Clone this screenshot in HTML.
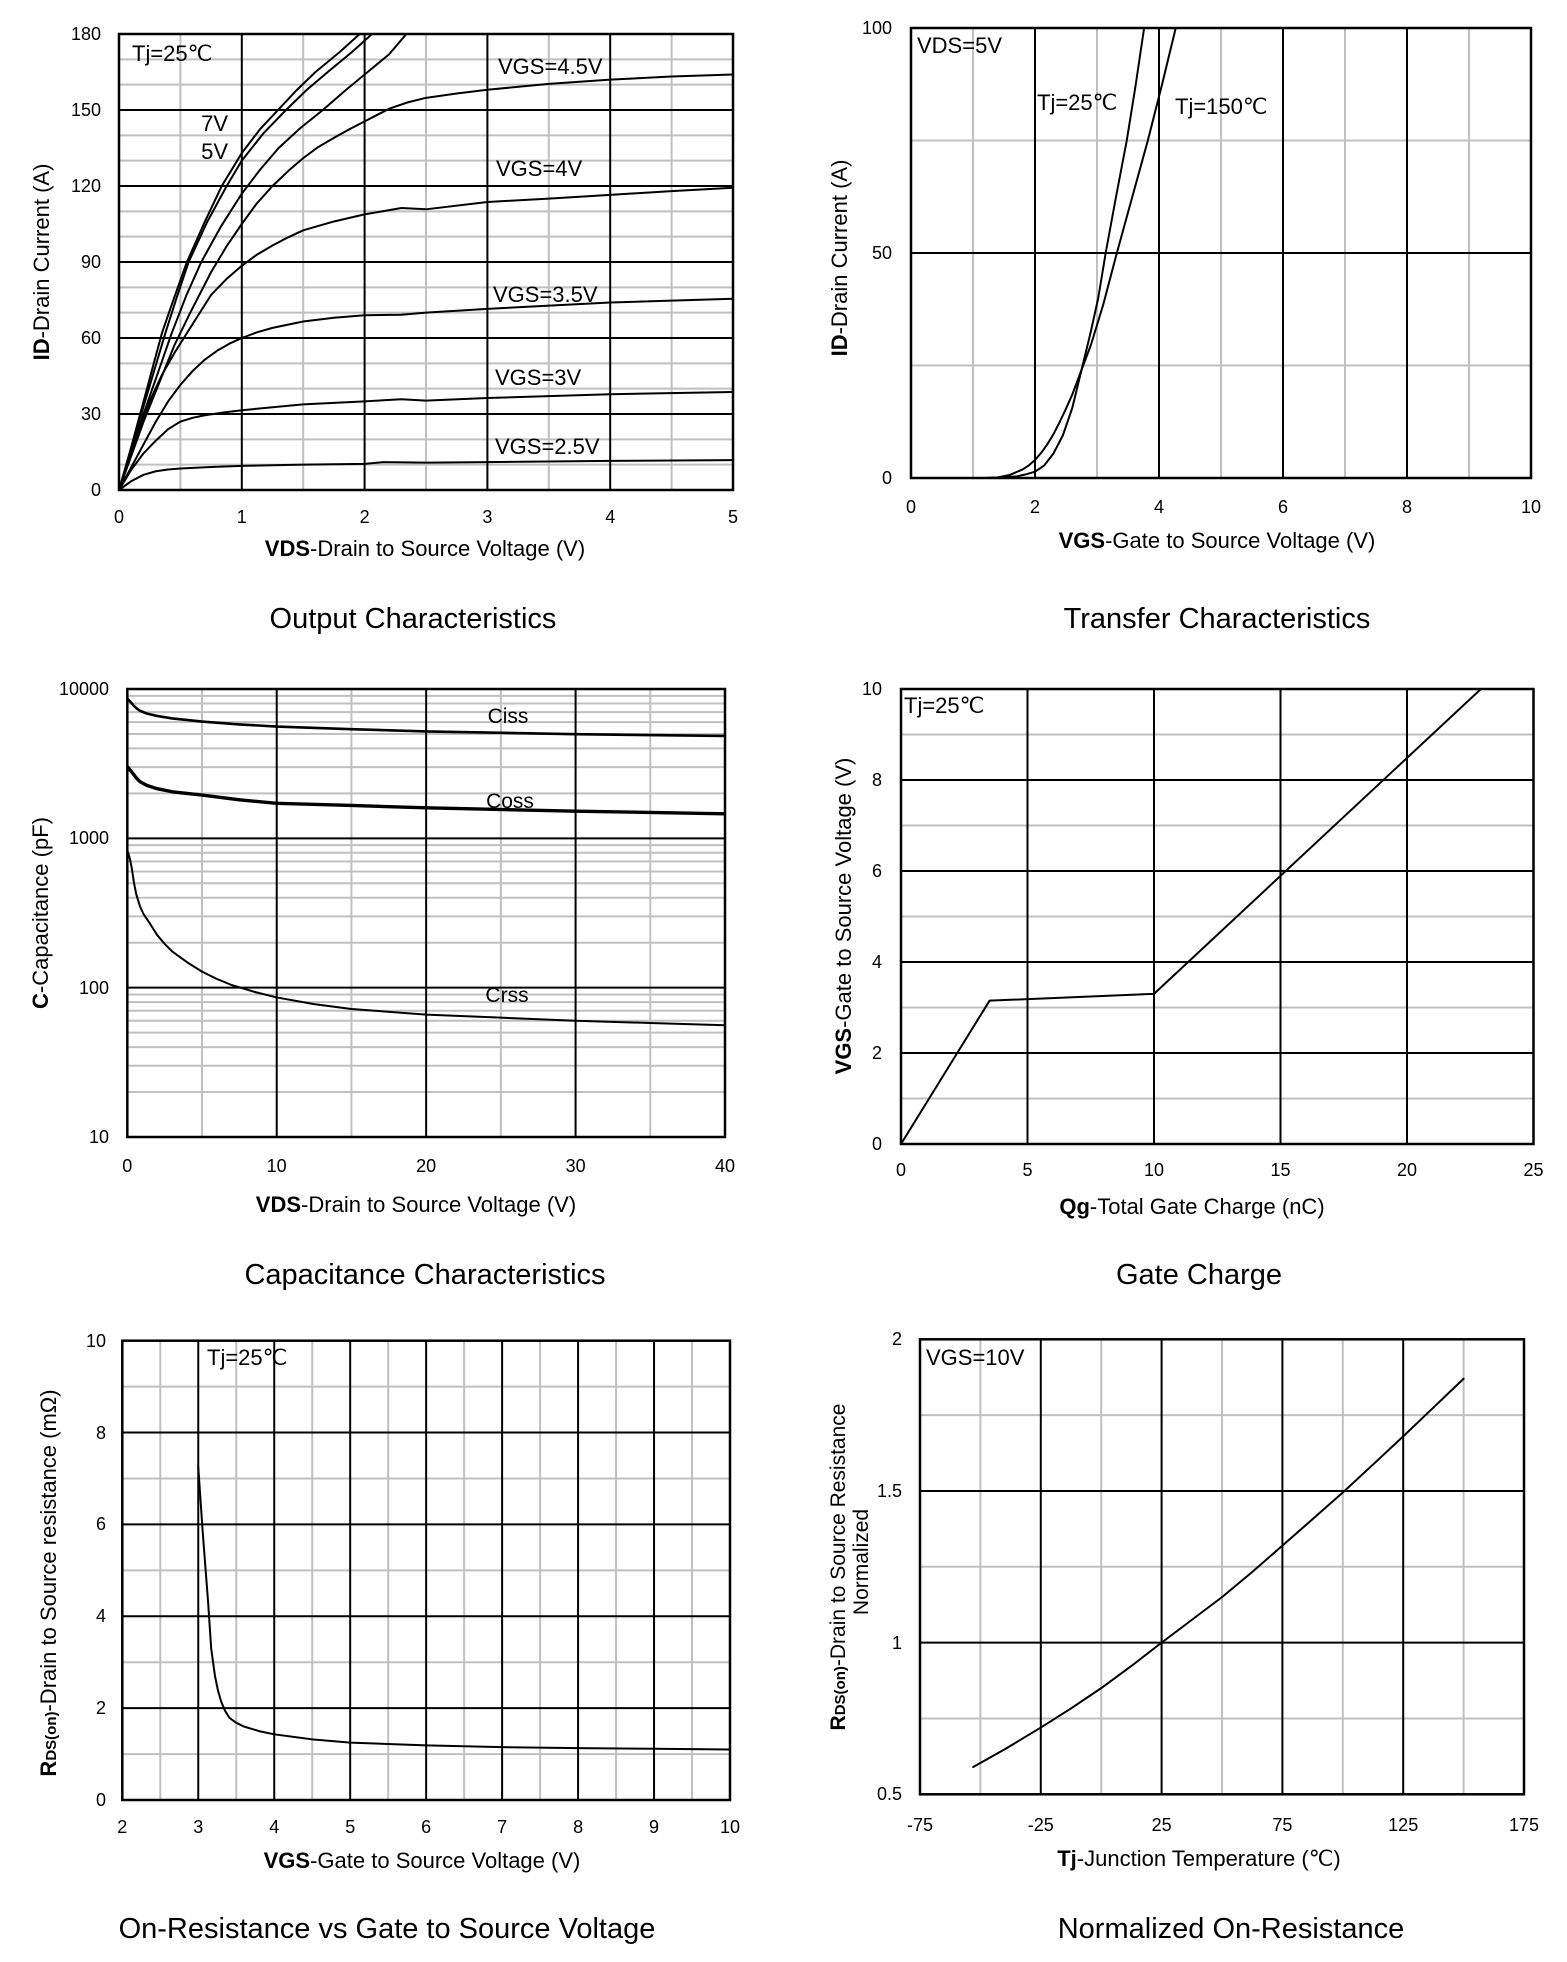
<!DOCTYPE html>
<html><head><meta charset="utf-8">
<style>
html,body{margin:0;padding:0;background:#fff;}
svg{display:block;}
text{font-family:"Liberation Sans",Arial,sans-serif;fill:#000;}
.tk{font-size:18px;}
.lb{font-size:22px;}
.ax{font-size:22px;}
.tt{font-size:29px;}
.p path,.p polyline,.p line{vector-effect:non-scaling-stroke;fill:none;}
.gg{stroke:#c0c0c0;stroke-width:2;}
.gb{stroke:#000;stroke-width:2;}
.cv{stroke:#000;stroke-width:2;stroke-linejoin:round;stroke-linecap:round;}
.bd{fill:none;stroke:#000;stroke-width:2.5;}
</style></head>
<body>
<svg width="1567" height="1962" viewBox="0 0 1567 1962" xmlns="http://www.w3.org/2000/svg">
<rect x="0" y="0" width="1567" height="1962" fill="#fff"/>

<!-- ============ PLOT 1: Output Characteristics ============ -->
<svg class="p" x="119" y="34" width="614" height="456" viewBox="0 -180 5 180" preserveAspectRatio="none">
<path class="gg" d="M0.5,-180V0M1.5,-180V0M2.5,-180V0M3.5,-180V0M4.5,-180V0M0,-10H5M0,-20H5M0,-40H5M0,-50H5M0,-70H5M0,-80H5M0,-100H5M0,-110H5M0,-130H5M0,-140H5M0,-160H5M0,-170H5"/>
<path class="gb" d="M1,-180V0M2,-180V0M3,-180V0M4,-180V0M0,-30H5M0,-60H5M0,-90H5M0,-120H5M0,-150H5"/>
<polyline class="cv" points="0,0 0.1,-17 0.2,-35 0.35,-62 0.45,-76 0.553,-90 0.7,-106 0.837,-120 1,-133 1.15,-142.5 1.295,-150 1.45,-158 1.6,-165 1.8,-173 1.96,-180 2.0,-182"/>
<polyline class="cv" points="0,0 0.1,-16 0.2,-33 0.378,-62 0.47,-76 0.567,-90 0.72,-106 0.877,-120 1,-130 1.18,-141 1.36,-150 1.53,-158 1.7,-165 1.9,-173 2.06,-180 2.1,-182"/>
<polyline class="cv" points="0,0 0.2,-30 0.43,-62 0.55,-77 0.67,-90 0.83,-104 1,-117 1.15,-126.5 1.3,-135 1.48,-143 1.66,-150 1.85,-158 2.0,-164 2.2,-172 2.34,-180 2.38,-182"/>
<polyline class="cv" points="0,0 0.2,-27 0.45,-57 0.58,-70 0.75,-86 0.88,-96.5 1,-105 1.12,-113 1.25,-120 1.38,-126 1.5,-131 1.62,-135.3 1.75,-139 1.88,-142.5 2,-145.5 2.1,-148 2.2,-150.5 2.35,-153 2.5,-154.8 2.75,-156.5 3,-158 3.5,-160.3 4,-162 4.5,-163.2 5,-164"/>
<polyline class="cv" points="0,0 0.12,-18 0.25,-35 0.35,-45.5 0.45,-54 0.58,-64 0.75,-77 0.88,-83.5 1,-88.5 1.12,-92.8 1.25,-96.5 1.38,-99.8 1.5,-102.5 1.75,-106 2,-108.8 2.3,-111.3 2.5,-110.8 3,-113.7 3.5,-115 4,-116.5 4.5,-118 5,-119.3"/>
<polyline class="cv" points="0,0 0.1,-9 0.2,-18 0.3,-27 0.4,-35 0.5,-41.5 0.6,-47 0.7,-51.5 0.8,-55 0.9,-57.8 1,-60 1.12,-62.2 1.25,-64 1.5,-66.5 1.75,-68 2,-69 2.3,-69.2 2.5,-70 3,-71.5 4,-74 5,-75.5"/>
<polyline class="cv" points="0,0 0.1,-8 0.2,-14.5 0.3,-19.5 0.4,-24 0.5,-27 0.6,-28.5 0.7,-29.5 0.85,-30.6 1,-31.5 1.5,-33.8 2,-35 2.3,-35.8 2.5,-35.3 3,-36.3 4,-37.8 5,-38.7"/>
<polyline class="cv" points="0,0 0.1,-3.5 0.2,-6 0.3,-7.4 0.4,-8.1 0.5,-8.5 0.75,-9.1 1,-9.5 1.5,-10 2,-10.3 2.15,-11 2.5,-10.8 3,-11 4,-11.5 5,-11.8"/>
</svg>
<rect class="bd" x="119" y="34" width="614" height="456"/>
<g class="tk" text-anchor="end">
<text x="101" y="40">180</text><text x="101" y="116">150</text><text x="101" y="192">120</text>
<text x="101" y="268">90</text><text x="101" y="344">60</text><text x="101" y="420">30</text><text x="101" y="496">0</text>
</g>
<g class="tk" text-anchor="middle">
<text x="119" y="523">0</text><text x="241.8" y="523">1</text><text x="364.6" y="523">2</text>
<text x="487.4" y="523">3</text><text x="610.2" y="523">4</text><text x="733" y="523">5</text>
</g>
<g class="lb">
<text x="132" y="61">Tj=25℃</text>
<text x="228" y="131" text-anchor="end">7V</text>
<text x="228" y="159" text-anchor="end">5V</text>
<text x="498" y="74">VGS=4.5V</text>
<text x="496" y="176">VGS=4V</text>
<text x="493" y="302">VGS=3.5V</text>
<text x="495" y="385">VGS=3V</text>
<text x="495" y="454">VGS=2.5V</text>
</g>
<text class="ax" x="425" y="556" text-anchor="middle"><tspan font-weight="bold">VDS</tspan>-Drain to Source Voltage (V)</text>
<text class="ax" transform="translate(49,262) rotate(-90)" text-anchor="middle"><tspan font-weight="bold">ID</tspan>-Drain Current (A)</text>
<text class="tt" x="413" y="628" text-anchor="middle">Output Characteristics</text>

<!-- ============ PLOT 2: Transfer Characteristics ============ -->
<svg class="p" x="911" y="28" width="620" height="450" viewBox="0 -100 10 100" preserveAspectRatio="none">
<path class="gg" d="M1,-100V0M3,-100V0M5,-100V0M7,-100V0M9,-100V0M0,-25H10M0,-75H10"/>
<path class="gb" d="M2,-100V0M4,-100V0M6,-100V0M8,-100V0M0,-50H10"/>
<polyline class="cv" points="1.2,0 1.5,-0.1 1.7,-0.35 1.85,-0.8 2,-1.4 2.15,-2.8 2.3,-5.5 2.45,-9.5 2.6,-15.5 2.75,-24 2.9,-32.5 3.02,-40 3.14,-50 3.3,-62 3.48,-75 3.62,-87 3.76,-100 3.8,-103"/>
<polyline class="cv" points="1.2,0 1.4,-0.15 1.6,-0.7 1.8,-1.9 1.9,-2.8 2,-4 2.1,-5.6 2.2,-7.5 2.3,-9.8 2.4,-12.5 2.5,-15.4 2.6,-18.5 2.75,-24 2.9,-29.5 3.1,-38.5 3.32,-50 3.57,-62.5 3.82,-75 4.05,-87.5 4.27,-100 4.3,-102"/>
</svg>
<rect class="bd" x="911" y="28" width="620" height="450"/>
<g class="tk" text-anchor="end">
<text x="892" y="34">100</text><text x="892" y="259">50</text><text x="892" y="484">0</text>
</g>
<g class="tk" text-anchor="middle">
<text x="911" y="513">0</text><text x="1035" y="513">2</text><text x="1159" y="513">4</text>
<text x="1283" y="513">6</text><text x="1407" y="513">8</text><text x="1531" y="513">10</text>
</g>
<g class="lb">
<text x="917" y="53">VDS=5V</text>
<text x="1037" y="110">Tj=25℃</text>
<text x="1175" y="114">Tj=150℃</text>
</g>
<text class="ax" x="1217" y="548" text-anchor="middle"><tspan font-weight="bold">VGS</tspan>-Gate to Source Voltage (V)</text>
<text class="ax" transform="translate(847,258) rotate(-90)" text-anchor="middle"><tspan font-weight="bold">ID</tspan>-Drain Current (A)</text>
<text class="tt" x="1217" y="628" text-anchor="middle">Transfer Characteristics</text>

<!-- ============ PLOT 3: Capacitance ============ -->
<svg class="p" x="127.3" y="689" width="597.7" height="448" viewBox="0 -4 40 3" preserveAspectRatio="none">
<path class="gg" d="M5,-4V-1M15,-4V-1M25,-4V-1M35,-4V-1
M0,-1.3010H40M0,-1.4771H40M0,-1.6021H40M0,-1.6990H40M0,-1.7782H40M0,-1.8451H40M0,-1.9031H40M0,-1.9542H40
M0,-2.3010H40M0,-2.4771H40M0,-2.6021H40M0,-2.6990H40M0,-2.7782H40M0,-2.8451H40M0,-2.9031H40M0,-2.9542H40
M0,-3.3010H40M0,-3.4771H40M0,-3.6021H40M0,-3.6990H40M0,-3.7782H40M0,-3.8451H40M0,-3.9031H40M0,-3.9542H40"/>
<path class="gb" d="M10,-4V-1M20,-4V-1M30,-4V-1M0,-2H40M0,-3H40"/>
<polyline class="cv" style="stroke-width:2.6" points="0,-3.9370 0.2,-3.915 0.4,-3.8921 0.6,-3.872 0.85,-3.8543 1.3,-3.836 2,-3.8195 3,-3.8028 5,-3.7818 7.5,-3.763 10,-3.7482 15,-3.7308 20,-3.7160 30,-3.6972 40,-3.6857"/>
<polyline class="cv" style="stroke-width:3.4" points="0,-3.4800 0.2,-3.456 0.4,-3.4314 0.6,-3.405 0.85,-3.3793 1.3,-3.355 2,-3.3324 3,-3.3118 5,-3.2900 7.5,-3.258 10,-3.2343 15,-3.2201 20,-3.2041 30,-3.1818 40,-3.1644"/>
<polyline class="cv" points="0,-2.9191 0.1,-2.89 0.2,-2.85 0.3,-2.80 0.45,-2.70 0.6,-2.625 0.85,-2.5441 1.1,-2.49 1.5,-2.4314 2,-2.3522 2.5,-2.293 3,-2.2430 4,-2.1703 5,-2.1072 6,-2.058 7,-2.0170 8.5,-1.972 10,-1.9345 12.5,-1.89 15,-1.8573 20,-1.8195 25,-1.7993 30,-1.7782 35,-1.7634 40,-1.7482"/>
</svg>
<rect class="bd" x="127.3" y="689" width="597.7" height="448"/>
<g class="tk" text-anchor="end">
<text x="109" y="695">10000</text><text x="109" y="844">1000</text><text x="109" y="994">100</text><text x="109" y="1143">10</text>
</g>
<g class="tk" text-anchor="middle">
<text x="127.3" y="1172">0</text><text x="276.7" y="1172">10</text><text x="426.2" y="1172">20</text>
<text x="575.6" y="1172">30</text><text x="725" y="1172">40</text>
</g>
<g class="lb" text-anchor="middle" style="font-size:21px">
<text x="508" y="723">Ciss</text>
<text x="510" y="808">Coss</text>
<text x="507" y="1002">Crss</text>
</g>
<text class="ax" x="416" y="1212" text-anchor="middle"><tspan font-weight="bold">VDS</tspan>-Drain to Source Voltage (V)</text>
<text class="ax" transform="translate(48,913) rotate(-90)" text-anchor="middle"><tspan font-weight="bold">C</tspan>-Capacitance (pF)</text>
<text class="tt" x="425" y="1284" text-anchor="middle">Capacitance Characteristics</text>

<!-- ============ PLOT 4: Gate Charge ============ -->
<svg class="p" x="901" y="689" width="632.5" height="455" viewBox="0 -10 25 10" preserveAspectRatio="none">
<path class="gg" d="M0,-1H25M0,-3H25M0,-5H25M0,-7H25M0,-9H25"/>
<path class="gb" d="M5,-10V0M10,-10V0M15,-10V0M20,-10V0M0,-2H25M0,-4H25M0,-6H25M0,-8H25"/>
<polyline class="cv" points="0,0 3.5,-3.15 10,-3.3 23.5,-10.3"/>
</svg>
<rect class="bd" x="901" y="689" width="632.5" height="455"/>
<g class="tk" text-anchor="end">
<text x="882" y="695">10</text><text x="882" y="786">8</text><text x="882" y="877">6</text>
<text x="882" y="968">4</text><text x="882" y="1059">2</text><text x="882" y="1150">0</text>
</g>
<g class="tk" text-anchor="middle">
<text x="901" y="1176">0</text><text x="1027.5" y="1176">5</text><text x="1154" y="1176">10</text>
<text x="1280.5" y="1176">15</text><text x="1407" y="1176">20</text><text x="1533.5" y="1176">25</text>
</g>
<text class="lb" x="904" y="713">Tj=25℃</text>
<text class="ax" x="1192" y="1214" text-anchor="middle"><tspan font-weight="bold">Qg</tspan>-Total Gate Charge (nC)</text>
<text class="ax" transform="translate(851,916) rotate(-90)" text-anchor="middle"><tspan font-weight="bold">VGS</tspan>-Gate to Source Voltage (V)</text>
<text class="tt" x="1199" y="1284" text-anchor="middle">Gate Charge</text>

<!-- ============ PLOT 5: On-Resistance vs VGS ============ -->
<svg class="p" x="122.3" y="1340.7" width="607.7" height="459.3" viewBox="2 -10 8 10" preserveAspectRatio="none">
<path class="gg" d="M2.5,-10V0M3.5,-10V0M4.5,-10V0M5.5,-10V0M6.5,-10V0M7.5,-10V0M8.5,-10V0M9.5,-10V0M2,-1H10M2,-3H10M2,-5H10M2,-7H10M2,-9H10"/>
<path class="gb" d="M3,-10V0M4,-10V0M5,-10V0M6,-10V0M7,-10V0M8,-10V0M9,-10V0M2,-2H10M2,-4H10M2,-6H10M2,-8H10"/>
<polyline class="cv" points="3,-7.25 3.06,-5.8 3.13,-4.3 3.17,-3.3 3.22,-2.7 3.26,-2.38 3.3,-2.15 3.35,-1.95 3.41,-1.79 3.5,-1.68 3.6,-1.6 3.8,-1.5 4,-1.43 4.5,-1.32 5,-1.25 6,-1.19 7,-1.15 8,-1.13 9,-1.115 10,-1.1"/>
</svg>
<rect class="bd" x="122.3" y="1340.7" width="607.7" height="459.3"/>
<g class="tk" text-anchor="end">
<text x="106" y="1347">10</text><text x="106" y="1439">8</text><text x="106" y="1530">6</text>
<text x="106" y="1622">4</text><text x="106" y="1714">2</text><text x="106" y="1806">0</text>
</g>
<g class="tk" text-anchor="middle">
<text x="122.3" y="1833">2</text><text x="198.3" y="1833">3</text><text x="274.2" y="1833">4</text>
<text x="350.2" y="1833">5</text><text x="426.1" y="1833">6</text><text x="502.1" y="1833">7</text>
<text x="578.1" y="1833">8</text><text x="654" y="1833">9</text><text x="730" y="1833">10</text>
</g>
<text class="lb" x="207" y="1365">Tj=25℃</text>
<text class="ax" x="422" y="1868" text-anchor="middle"><tspan font-weight="bold">VGS</tspan>-Gate to Source Voltage (V)</text>
<text class="ax" transform="translate(56,1583) rotate(-90)" text-anchor="middle"><tspan font-weight="bold">R</tspan><tspan font-weight="bold" font-size="15">DS(on)</tspan>-Drain to Source resistance (mΩ)</text>
<text class="tt" x="387" y="1938" text-anchor="middle">On-Resistance vs Gate to Source Voltage</text>

<!-- ============ PLOT 6: Normalized On-Resistance ============ -->
<svg class="p" x="920" y="1339.3" width="604" height="455" viewBox="-75 -2 250 1.5" preserveAspectRatio="none">
<path class="gg" d="M-50,-2V-0.5M0,-2V-0.5M50,-2V-0.5M100,-2V-0.5M150,-2V-0.5M-75,-1.75H175M-75,-1.25H175M-75,-0.75H175"/>
<path class="gb" d="M-25,-2V-0.5M25,-2V-0.5M75,-2V-0.5M125,-2V-0.5M-75,-1.5H175M-75,-1H175"/>
<polyline class="cv" points="-53,-0.59 -40,-0.648 -25,-0.72 -12.5,-0.783 0,-0.85 12.5,-0.923 25,-1.0 37.5,-1.075 50,-1.15 62.5,-1.233 75,-1.32 87.5,-1.407 100,-1.495 112.5,-1.587 125,-1.68 137.5,-1.775 150,-1.87"/>
</svg>
<rect class="bd" x="920" y="1339.3" width="604" height="455"/>
<g class="tk" text-anchor="end">
<text x="902" y="1345">2</text><text x="902" y="1497">1.5</text><text x="902" y="1649">1</text><text x="902" y="1800">0.5</text>
</g>
<g class="tk" text-anchor="middle">
<text x="920" y="1831">-75</text><text x="1040.8" y="1831">-25</text><text x="1161.6" y="1831">25</text>
<text x="1282.4" y="1831">75</text><text x="1403.2" y="1831">125</text><text x="1524" y="1831">175</text>
</g>
<text class="lb" x="926" y="1365">VGS=10V</text>
<text class="ax" x="1199" y="1866" text-anchor="middle"><tspan font-weight="bold">Tj</tspan>-Junction Temperature (℃)</text>
<text class="ax" transform="translate(845,1567) rotate(-90)" text-anchor="middle" style="font-size:21px"><tspan font-weight="bold">R</tspan><tspan font-weight="bold" font-size="15">DS(on)</tspan>-Drain to Source Resistance</text>
<text class="ax" transform="translate(868,1562) rotate(-90)" text-anchor="middle" style="font-size:21px">Normalized</text>
<text class="tt" x="1231" y="1938" text-anchor="middle">Normalized On-Resistance</text>
</svg>
</body></html>
